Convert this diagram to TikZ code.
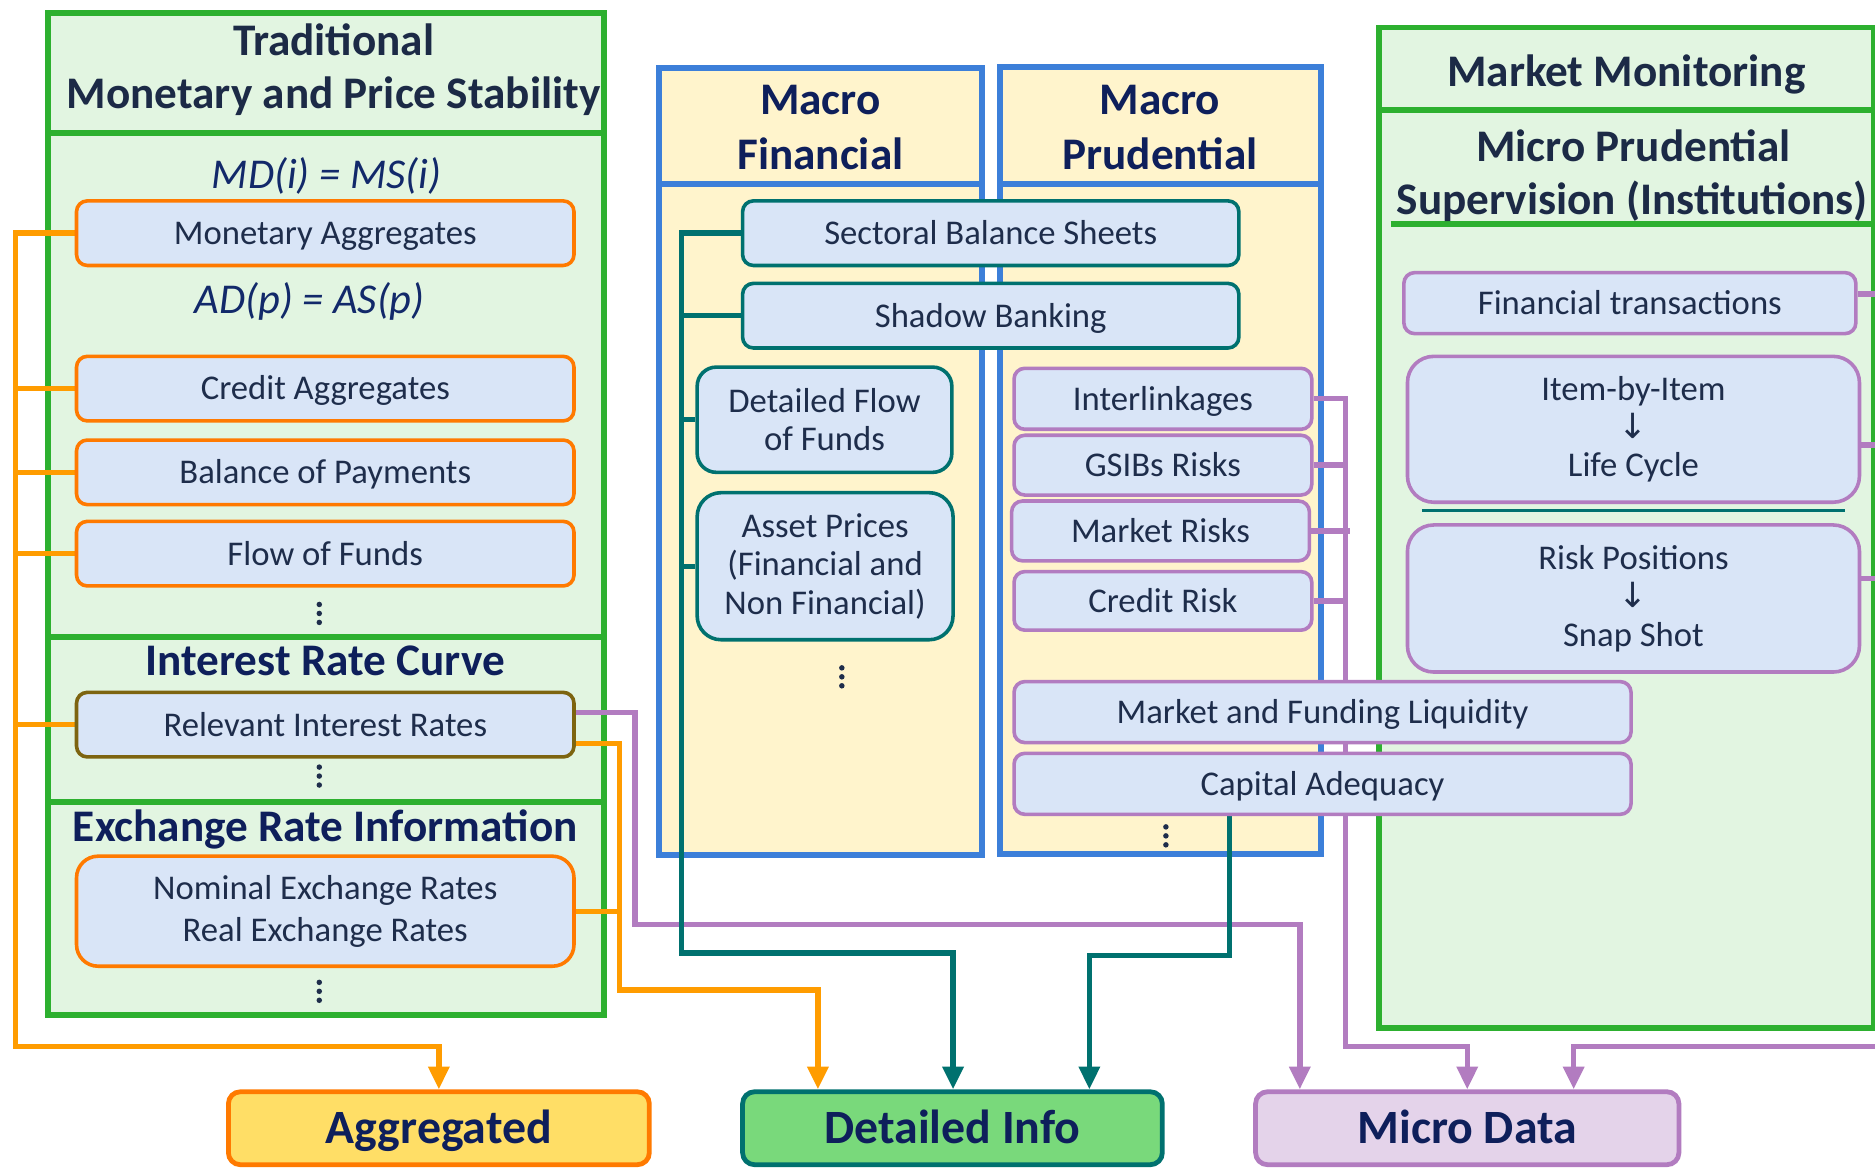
\documentclass[tikz,border=0pt]{standalone}
\usepackage{fontspec}
\setmainfont{Carlito}
\newfontfamily\symfont{DejaVu Sans}
\usetikzlibrary{arrows.meta,calc}

\definecolor{grnline}{HTML}{2DB02F}
\definecolor{grnfill}{HTML}{E2F5E1}
\definecolor{blueline}{HTML}{3C7FD9}
\definecolor{creamfill}{HTML}{FFF4CC}
\definecolor{boxfill}{HTML}{D9E5F7}
\definecolor{orgline}{HTML}{FF7A00}
\definecolor{orgconn}{HTML}{FF9C00}
\definecolor{oliveline}{HTML}{7D6410}
\definecolor{tealc}{HTML}{00716F}
\definecolor{purp}{HTML}{B27CC0}
\definecolor{navy}{HTML}{0E1F5B}
\definecolor{slate}{HTML}{1C2A46}
\definecolor{txt}{HTML}{1E2D4B}
\definecolor{eqcol}{HTML}{12296A}
\definecolor{yelfill}{HTML}{FFDE66}
\definecolor{detfill}{HTML}{79D97B}
\definecolor{micfill}{HTML}{E4D3EA}

\newcommand\txtsz{\fontsize{29}{32}\selectfont}
\newcommand\ttlsz{\fontsize{37.8}{45}\selectfont\bfseries}
\newcommand\btmsz{\fontsize{40}{46}\selectfont\bfseries}
\newcommand\eqsz{\fontsize{35.5}{40}\selectfont\itshape}

\pgfdeclarelayer{panels}
\pgfdeclarelayer{wires}
\pgfsetlayers{panels,wires,main}

\begin{document}
\begin{tikzpicture}[x=1pt,y=-1pt,
  panel/.style={draw=grnline,fill=grnfill,line width=5pt},
  bpanel/.style={draw=blueline,fill=creamfill,line width=5pt},
  item/.style={draw,fill=boxfill,line width=3pt,rounded corners=9pt,text=txt,
    font=\txtsz,align=center,inner sep=0pt},
  oneline/.style={text height=19pt,text depth=0pt},
  multi/.style={yshift=-3pt},
  oitem/.style={item,draw=orgline},
  titem/.style={item,draw=tealc},
  pitem/.style={item,draw=purp},
  ttl/.style={font=\ttlsz,text=navy,anchor=base,inner sep=0pt},
  eqn/.style={font=\eqsz,text=eqcol,anchor=base,inner sep=0pt},
  lbl/.style={draw,line width=4pt,rounded corners=10pt,font=\btmsz,text=navy,
    minimum height=61pt,inner sep=0pt,text height=26pt,text depth=0pt},
  conn/.style={line width=4.5pt},
  oconn/.style={conn,draw=orgconn},
  tconn/.style={conn,draw=tealc},
  pconn/.style={conn,draw=purp},
  arrowend/.style={-{Triangle[length=19pt,width=17pt]}},
  vdots/.pic={\fill[txt] (0,-7.5) circle[radius=2.3pt] (0,0) circle[radius=2.3pt]
    (0,7.5) circle[radius=2.3pt];}
]

% ---------------- item boxes ----------------
\path
  (272,195) node[oitem,oneline,minimum width=416pt,minimum height=54pt] (ma) {Monetary Aggregates}
  (272,325) node[oitem,oneline,minimum width=416pt,minimum height=54pt] (ca) {Credit Aggregates}
  (272,395) node[oitem,oneline,minimum width=416pt,minimum height=54pt] (bop) {Balance of Payments}
  (272,463) node[oitem,oneline,minimum width=416pt,minimum height=54pt] (fof) {Flow of Funds}
  (272,606) node[item,oneline,draw=oliveline,minimum width=416pt,minimum height=54pt] (rir) {Relevant Interest Rates}
  (272,762) node[oitem,rounded corners=18pt,minimum width=416pt,minimum height=92pt,
     font=\fontsize{29}{35}\selectfont] (erx) {Nominal Exchange Rates\\Real Exchange Rates}
  (828.5,195) node[titem,oneline,minimum width=415pt,minimum height=54pt] (sbs) {Sectoral Balance Sheets}
  (828.5,264) node[titem,oneline,minimum width=415pt,minimum height=54pt] (shb) {Shadow Banking}
  (689.5,351) node[titem,rounded corners=16pt,minimum width=213pt,minimum height=88pt] (dff) {Detailed Flow\\of Funds}
  (690,470.5) node[titem,multi,rounded corners=20pt,minimum width=214pt,minimum height=123pt] (ast) {Asset Prices\\(Financial and\\Non Financial)}
  (972.5,333.5) node[pitem,oneline,minimum width=249pt,minimum height=51pt] (il) {Interlinkages}
  (972.5,389) node[pitem,oneline,minimum width=249pt,minimum height=50pt] (gs) {GSIBs Risks}
  (970.5,444) node[pitem,oneline,minimum width=249pt,minimum height=50pt] (mk) {Market Risks}
  (972.5,502.5) node[pitem,oneline,minimum width=249pt,minimum height=49pt] (cr) {Credit Risk}
  (1106,595.5) node[pitem,oneline,minimum width=516pt,minimum height=51pt] (mfl) {Market and Funding Liquidity}
  (1106,655.5) node[pitem,oneline,minimum width=516pt,minimum height=51pt] (cap) {Capital Adequacy}
  (1363,253.5) node[pitem,oneline,minimum width=378pt,minimum height=51pt] (ft) {Financial transactions}
  (1366,356) node[pitem,multi,rounded corners=22pt,minimum width=378pt,minimum height=122pt] (ibi) {Item-by-Item\\{\symfont ↓}\\Life Cycle}
  (1366,497.5) node[pitem,multi,rounded corners=22pt,minimum width=378pt,minimum height=123pt] (rp) {Risk Positions\\{\symfont ↓}\\Snap Shot};

% ---------------- bottom targets ----------------
\node[lbl,draw=orgline,fill=yelfill,minimum width=352pt] (agg) at (367,943.5) {Aggregated};
\node[lbl,draw=tealc,fill=detfill,minimum width=351pt] (det) at (796.5,943.5) {Detailed Info};
\node[lbl,draw=purp,fill=micfill,minimum width=354pt] (mic) at (1227,943.5) {Micro Data};

% ---------------- panels and their headings ----------------
\begin{pgfonlayer}{panels}
\fill[white] (0,0) rectangle (1568,976);
% traditional monetary column
\draw[panel] (40,11) rectangle (505,111);
\draw[panel] (40,111) rectangle (505,533);
\draw[panel] (40,533) rectangle (505,671);
\draw[panel] (40,671) rectangle (505,849);
% macro columns
\draw[bpanel] (551,57) rectangle (821,715);
\draw[blueline,line width=5pt] (551,154) -- (821,154);
\draw[bpanel] (836,56) rectangle (1105,714);
\draw[blueline,line width=5pt] (836,154) -- (1105,154);
% market monitoring column
\draw[panel] (1153,23) rectangle (1567,92);
\draw[panel] (1153,92) rectangle (1567,860);
\draw[grnline,line width=5pt] (1163,187) -- (1567,187);
\draw[tealc,line width=2pt] (1189,427) -- (1543,427);

\node[ttl,text=slate] (t1a) at (279,46) {Traditional};
\node[ttl,text=slate] (t1b) at (279,91) {Monetary and Price Stability};
\node[eqn] (eq1) at (273,157.5) {MD(i) = MS(i)};
\node[eqn] (eq2) at (259,262.5) {AD(p) = AS(p)};
\node[ttl] (t2) at (272,565) {Interest Rate Curve};
\node[ttl] (t3) at (272,704) {Exchange Rate Information};
\node[ttl] (t4a) at (686,96) {Macro};
\node[ttl] (t4b) at (686,142) {Financial};
\node[ttl] (t5a) at (970,96) {Macro};
\node[ttl] (t5b) at (970,142) {Prudential};
\node[ttl,text=slate] (t6) at (1360,72) {Market Monitoring};
\node[ttl,text=slate] (t7a) at (1366,135) {Micro Prudential};
\node[ttl,text=slate] (t7b) at (1365,179) {Supervision (Institutions)};

\pic at (267,513) {vdots};
\pic at (267,649) {vdots};
\pic at (267,829) {vdots};
\pic at (704,566) {vdots};
\pic at (975,699) {vdots};
\end{pgfonlayer}

% ---------------- connectors ----------------
\begin{pgfonlayer}{wires}
% orange: aggregate statistics
\coordinate (obTop) at (13,195);
\coordinate (obBot) at (13,875);
\draw[oconn,arrowend] (ma.west) -- (obTop) -- (obBot) -| (agg.north);
\foreach \n in {ca,bop,fof,rir} \draw[oconn] (\n.west) -- (\n.west -| obTop);
\coordinate (ob2a) at (518,828);
\coordinate (ob2b) at (684,828);
\draw[oconn,arrowend] ($(rir.east)+(0,16)$) -| (ob2a) -- (ob2b) -- (det.north -| ob2b);
\draw[oconn] (erx.east) -- (erx.east -| ob2a);

% purple: micro data
\coordinate (pb1a) at (531,773);
\coordinate (pb1b) at (1087,773);
\draw[pconn,arrowend] ($(rir.east)+(0,-10)$) -| (pb1a) -- (pb1b) -- (mic.north -| pb1b);
\coordinate (pb2a) at (1125,875);
\draw[pconn,arrowend] (il.east) -| (pb2a) -| (mic.north);
\foreach \n in {gs,cr} \draw[pconn] (\n.east) -- (\n.east -| pb2a);
\draw[pconn] (mk.east) -- ($(mk.east -| pb2a)+(4,0)$);
\coordinate (pb3top) at (1585,246);
\coordinate (pb3a) at (1585,875);
\coordinate (pb3b) at (1316,875);
\draw[pconn,arrowend] ($(ft.east)+(0,-7.5)$) -- (pb3top) -- (pb3a) -- (pb3b) -- (mic.north -| pb3b);
\draw[pconn] ($(ibi.east)+(0,13)$) -- ($(ibi.east -| pb3a)+(0,13)$);
\draw[pconn] ($(rp.east)+(0,-16.5)$) -- ($(rp.east -| pb3a)+(0,-16.5)$);

% teal: detailed information
\coordinate (tbTop) at (570,195);
\coordinate (tb1a) at (570,797);
\coordinate (tb1b) at (797,797);
\draw[tconn,arrowend] (sbs.west) -- (tbTop) -- (tb1a) -- (tb1b) -- (det.north -| tb1b);
\foreach \n in {shb,dff,ast} \draw[tconn] (\n.west) -- (\n.west -| tbTop);
\coordinate (tb2a) at (1028,799);
\coordinate (tb2b) at (911,799);
\draw[tconn,arrowend] (cap.south -| tb2a) -- (tb2a) -- (tb2b) -- (det.north -| tb2b);
\end{pgfonlayer}

\pgfresetboundingbox
\useasboundingbox (0,0) rectangle (1568,976);
\end{tikzpicture}
\end{document}
